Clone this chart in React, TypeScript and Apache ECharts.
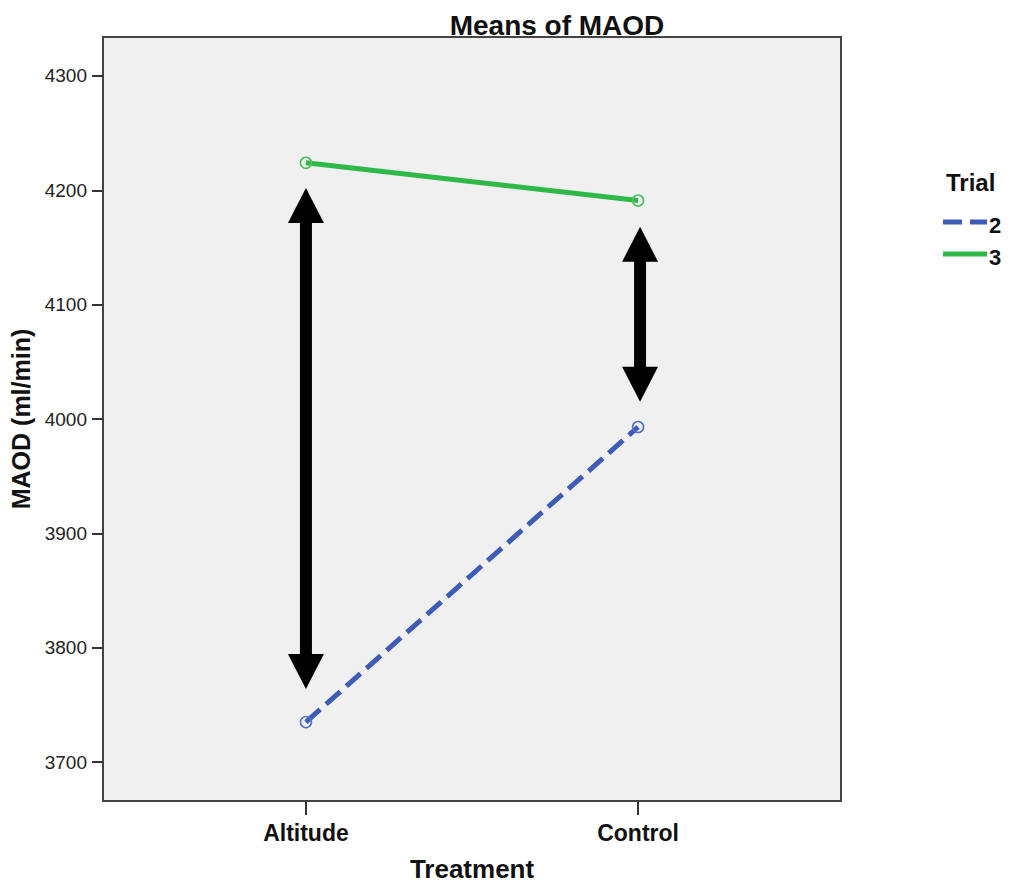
import React, { useEffect, useRef } from "react";
import * as echarts from "echarts";

const categories = ["Altitude", "Control"];
const categoryPositions = [0, 1];
const trials = ["2", "3"];
const trial2Values = [3735, 3993];
const trial3Values = [4224, 4191];
const yTicks = [3700, 3800, 3900, 4000, 4100, 4200, 4300];
const arrowPositions = [0, 1];
const arrowTops = [4202, 4168];
const arrowBottoms = [3764, 4015];

const BLUE = "#3E5BB6";
const GREEN = "#2EB848";
const FONT = "'Liberation Sans', Arial, sans-serif";

export default function App() {
  const ref = useRef<HTMLDivElement>(null);
  useEffect(() => {
    if (!ref.current) return;
    const chart = echarts.init(ref.current, null, { renderer: "svg" });
    const arrowData = arrowPositions.map((x, i) => [x, arrowTops[i], arrowBottoms[i]]);
    const option: any = {
      animation: false,
      backgroundColor: "#ffffff",
      textStyle: { fontFamily: FONT },
      title: {
        text: "Means of MAOD",
        left: 552,
        top: 6,
        textAlign: "center",
        textStyle: { fontFamily: FONT, fontSize: 28, fontWeight: "bold", color: "#111" },
      },
      grid: {
        left: 103,
        right: 171,
        top: 37,
        bottom: 87,
        containLabel: false,
        outerBoundsMode: "none",
        show: true,
        backgroundColor: "#f0f0f0",
        borderColor: "#444",
        borderWidth: 2,
      },
      xAxis: {
        type: "value",
        min: -0.611,
        max: 1.611,
        name: "Treatment",
        nameLocation: "middle",
        nameGap: 55,
        nameTextStyle: { fontFamily: FONT, fontSize: 26, fontWeight: "bold", color: "#111" },
        axisLine: { show: false, onZero: false },
        splitLine: { show: false },
        axisTick: {
          show: true,
          length: 14,
          customValues: categoryPositions,
          lineStyle: { color: "#333", width: 2 },
        },
        axisLabel: {
          customValues: categoryPositions,
          margin: 20,
          fontFamily: FONT,
          fontSize: 23,
          fontWeight: "bold",
          color: "#111",
          formatter: (v: number) => categories[Math.round(v)] ?? "",
        },
      },
      yAxis: {
        type: "value",
        min: 3666,
        max: 4334,
        name: "MAOD (ml/min)",
        nameLocation: "middle",
        nameGap: 65,
        nameTextStyle: { fontFamily: FONT, fontSize: 25, fontWeight: "bold", color: "#111" },
        axisLine: { show: false, onZero: false },
        splitLine: { show: false },
        axisTick: {
          show: true,
          length: 11,
          customValues: yTicks,
          lineStyle: { color: "#333", width: 2 },
        },
        axisLabel: {
          customValues: yTicks,
          margin: 16,
          fontFamily: FONT,
          fontSize: 19,
          color: "#222",
          formatter: (v: number) => String(v),
        },
      },
      series: [
        {
          name: trials[0],
          type: "line",
          data: categoryPositions.map((x, i) => [x, trial2Values[i]]),
          symbol: "circle",
          symbolSize: 11,
          showSymbol: true,
          lineStyle: { color: BLUE, width: 5, type: [19, 8] },
          itemStyle: { color: "rgba(0,0,0,0)", borderColor: "#5470c8", borderWidth: 1.6 },
          z: 3,
        },
        {
          name: trials[1],
          type: "line",
          data: categoryPositions.map((x, i) => [x, trial3Values[i]]),
          symbol: "circle",
          symbolSize: 11,
          showSymbol: true,
          lineStyle: { color: GREEN, width: 5 },
          itemStyle: { color: "rgba(0,0,0,0)", borderColor: "#48c45f", borderWidth: 1.6 },
          z: 3,
        },
        {
          type: "custom",
          data: arrowData,
          encode: { x: 0, y: [1, 2] },
          z: 4,
          renderItem: (params: any, api: any) => {
            const x = api.value(0);
            const top = api.coord([x, api.value(1)]);
            const bot = api.coord([x, api.value(2)]);
            const h = 35;
            const w = 36;
            const s = 12;
            const cx = top[0] + (x > 0.5 ? 2 : 0);
            return {
              type: "group",
              children: [
                {
                  type: "rect",
                  shape: { x: cx - s / 2, y: top[1] + h - 1, width: s, height: bot[1] - top[1] - 2 * h + 2 },
                  style: { fill: "#000" },
                },
                {
                  type: "polygon",
                  shape: { points: [[cx, top[1]], [cx - w / 2, top[1] + h], [cx + w / 2, top[1] + h]] },
                  style: { fill: "#000" },
                },
                {
                  type: "polygon",
                  shape: { points: [[cx, bot[1]], [cx - w / 2, bot[1] - h], [cx + w / 2, bot[1] - h]] },
                  style: { fill: "#000" },
                },
              ],
            };
          },
        },
      ],
      graphic: [
        {
          type: "text",
          left: 946,
          top: 170,
          style: { text: "Trial", fontFamily: FONT, fontSize: 24, fontWeight: "bold", fill: "#111" },
        },
        {
          type: "line",
          shape: { x1: 943, y1: 222, x2: 987, y2: 222 },
          style: { stroke: BLUE, lineWidth: 5, lineDash: [19, 8] },
        },
        {
          type: "text",
          left: 989,
          top: 214,
          style: { text: trials[0], fontFamily: FONT, fontSize: 22, fontWeight: "bold", fill: "#111" },
        },
        {
          type: "line",
          shape: { x1: 943, y1: 254, x2: 987, y2: 254 },
          style: { stroke: GREEN, lineWidth: 5 },
        },
        {
          type: "text",
          left: 989,
          top: 246,
          style: { text: trials[1], fontFamily: FONT, fontSize: 22, fontWeight: "bold", fill: "#111" },
        },
      ],
    };
    chart.setOption(option);
    return () => chart.dispose();
  }, []);
  return (
    <div
      ref={ref}
      style={{ position: "fixed", left: 0, top: 0, width: 1012, height: 888 }}
    />
  );
}
